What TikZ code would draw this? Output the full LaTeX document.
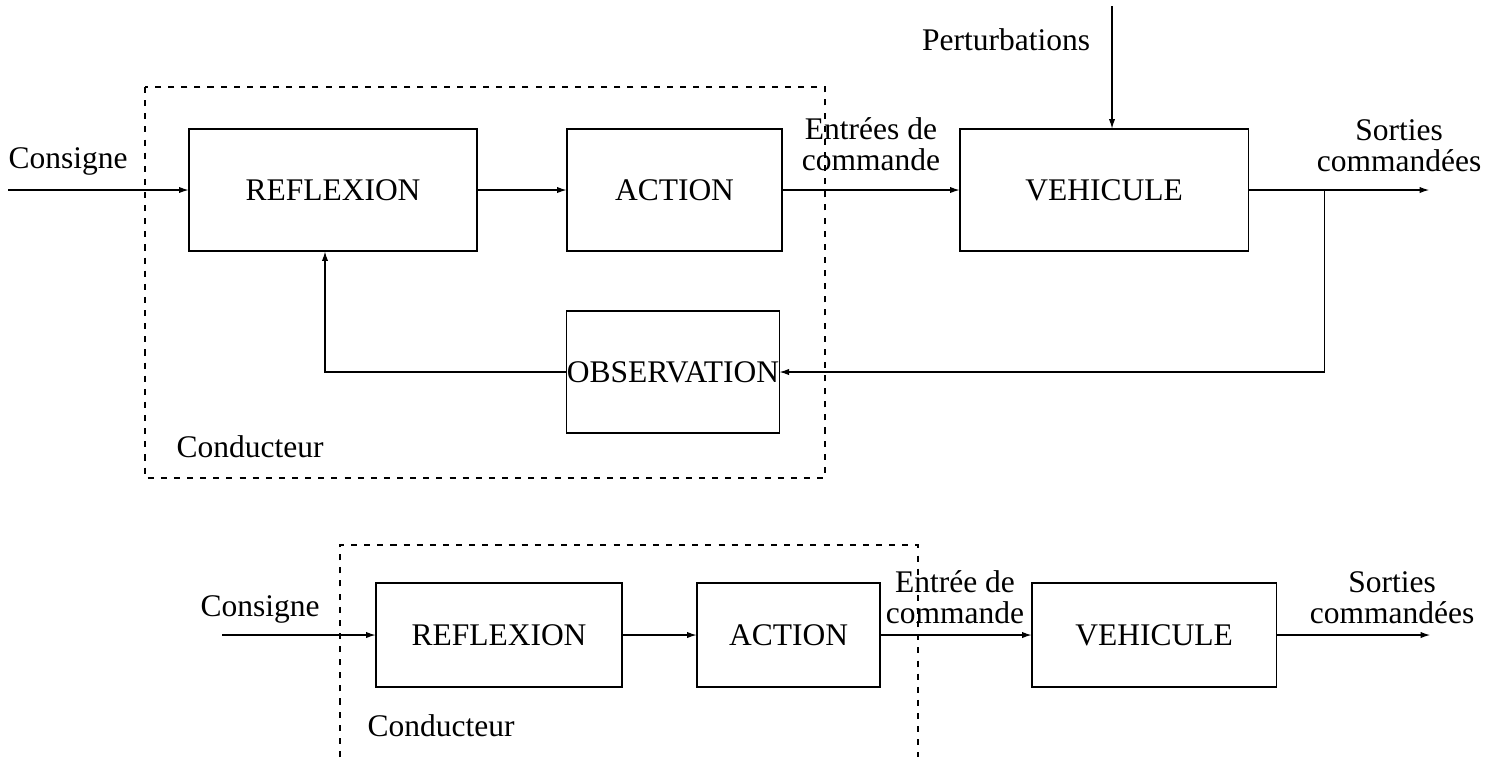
\documentclass[tikz,border=0pt]{standalone}
\usepackage{fontspec}
\setmainfont{Liberation Serif}
\usetikzlibrary{arrows.meta}
\def\unitpx{0.381pt}
\tikzset{schema/.style={x=\unitpx,y=-\unitpx,font=\fontsize{12}{11.7}\selectfont,
    >={Latex[length=3.6pt,width=2.4pt]},line width=0.4pt},
  bloc/.style 2 args={draw,minimum width=#1*\unitpx,minimum height=#2*\unitpx,inner sep=0pt},
  cadre/.style={dash pattern=on 2.3pt off 2.7pt},
  lbl/.style={align=center,anchor=base,inner sep=0pt}}

\begin{document}
\begin{tikzpicture}[schema]
    \useasboundingbox (0,0) rectangle (1490,760);
    % boucle avec observation
    \node[bloc={288}{122}] (refl) at (333,190) {REFLEXION};
    \node[bloc={215}{122}] (act) at (674.5,190) {ACTION};
    \node[bloc={288}{122}] (veh) at (1104,190) {VEHICULE};
    \node[bloc={212}{122}] (obs) at (673,372) {OBSERVATION};
    \coordinate (cons) at (8,190);
    \coordinate (sort) at (1429,190);
    \coordinate (bra) at (1324,190);
    \coordinate (pert) at (1112,6);
    \coordinate (ret) at (325,372);
    \foreach \a/\b in {cons/refl,refl/act,act/veh,veh/sort} \draw[->] (\a) -- (\b);
    \draw[->] (pert) -- (pert |- veh.north);
    \draw[->] (bra) |- (obs);
    \draw[->] (obs) -- (ret) -- (ret |- refl.south);
    \draw[cadre] (145,87) rectangle (825,478);
    \node[lbl] (lcons) at (68,168) {Consigne};
    \node[lbl] (lent) at (871,170) {Entrées de\\commande};
    \node[lbl] (lpert) at (1006,50) {Perturbations};
    \node[lbl] (lsort) at (1399,171) {Sorties\\commandées};
    \node[lbl] (lcond) at (250,457) {Conducteur};
    % boucle ouverte
    \node[bloc={246}{104}] (refl2) at (499,635) {REFLEXION};
    \node[bloc={183}{104}] (act2) at (788.5,635) {ACTION};
    \node[bloc={244}{104}] (veh2) at (1154,635) {VEHICULE};
    \coordinate (cons2) at (222,635);
    \coordinate (sort2) at (1430,635);
    \foreach \a/\b in {cons2/refl2,refl2/act2,act2/veh2,veh2/sort2} \draw[->] (\a) -- (\b);
    \draw[cadre] (340,757) -- (340,545) -- (918,545) -- (918,757);
    \node[lbl] (lcons2) at (260,616) {Consigne};
    \node[lbl] (lent2) at (955,623) {Entrée de\\commande};
    \node[lbl] (lsort2) at (1392,623) {Sorties\\commandées};
    \node[lbl] (lcond2) at (441,736) {Conducteur};
\end{tikzpicture}
\end{document}
